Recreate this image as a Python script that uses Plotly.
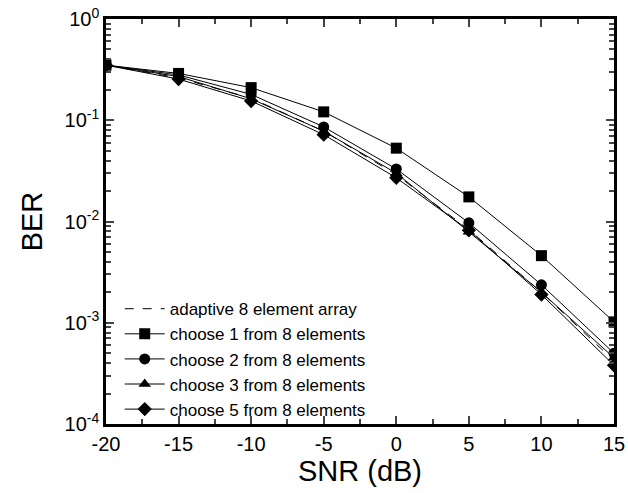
import plotly.graph_objects as go

snr = [-20, -15, -10, -5, 0, 5, 10, 15]
adaptive = [0.35, 0.262, 0.165, 0.078, 0.029, 0.0083, 0.0020, 0.00042]
choose1 = [0.35, 0.29, 0.21, 0.121, 0.053, 0.0175, 0.0046, 0.00102]
choose2 = [0.35, 0.28, 0.18, 0.086, 0.033, 0.0097, 0.00237, 0.00050]
choose3 = [0.35, 0.27, 0.163, 0.078, 0.030, 0.0079, 0.0020, 0.00045]
choose5 = [0.35, 0.255, 0.155, 0.072, 0.027, 0.0082, 0.0019, 0.00038]

names = ["adaptive 8 element array", "choose 1 from 8 elements", "choose 2 from 8 elements",
         "choose 3 from 8 elements", "choose 5 from 8 elements"]
xticks = [-20, -15, -10, -5, 0, 5, 10, 15]
xtext = ["-20", "-15", "-10", "-5", "0", "5", "10", "15"]
xminor = [-17.5, -12.5, -7.5, -2.5, 2.5, 7.5, 12.5]
yticks = [1e-4, 1e-3, 1e-2, 1e-1, 1]
ytext = ["10<sup>-4</sup>", "10<sup>-3</sup>", "10<sup>-2</sup>", "10<sup>-1</sup>", "10<sup>0</sup>"]
yminor = [m * d for d in [1e-4, 1e-3, 1e-2, 1e-1] for m in range(2, 10)]

fig = go.Figure()
fig.add_trace(go.Scatter(x=snr, y=adaptive, name=names[0], mode="lines",
                         line=dict(color="black", width=1, dash="dash")))
for vals, nm, sym in [(choose1, names[1], "square"), (choose2, names[2], "circle"),
                      (choose3, names[3], "triangle-up"), (choose5, names[4], "diamond")]:
    fig.add_trace(go.Scatter(x=snr, y=vals, name=nm, mode="lines+markers",
                             line=dict(color="black", width=1),
                             marker=dict(symbol=sym, size=11, color="black")))

fig.update_layout(
    width=628, height=493,
    paper_bgcolor="white", plot_bgcolor="white",
    margin=dict(l=106, r=14, t=19, b=69, autoexpand=False),
    font=dict(family="Liberation Sans, Arial, sans-serif", color="black"),
    showlegend=True,
    legend=dict(x=0.027, y=0.328, xanchor="left", yanchor="top",
                bgcolor="rgba(0,0,0,0)", font=dict(size=17), tracegroupgap=0,
                itemwidth=40),
)
fig.update_xaxes(range=[-20, 15], tickvals=xticks, ticktext=xtext, ticks="inside",
                 ticklen=8, tickwidth=2, automargin=False, ticklabeloverflow="allow",
                 showline=True, linewidth=2.5, linecolor="black", mirror="ticks",
                 showgrid=False, zeroline=False, tickfont=dict(size=20),
                 minor=dict(tickvals=xminor, ticks="inside", ticklen=5, tickwidth=2,
                            showgrid=False),
                 title=dict(text="SNR (dB)", font=dict(size=29), standoff=6))
fig.update_yaxes(type="log", range=[-4, 0], tickvals=yticks, ticktext=ytext,
                 ticks="inside", ticklen=8, tickwidth=2, automargin=False,
                 ticklabeloverflow="allow",
                 showline=True, linewidth=2.5, linecolor="black", mirror="ticks",
                 showgrid=False, zeroline=False, tickfont=dict(size=20),
                 minor=dict(tickvals=yminor, ticks="inside", ticklen=5, tickwidth=2,
                            showgrid=False),
                 title=dict(text="BER", font=dict(size=29), standoff=14))

fig.write_html("out.html", config={"displayModeBar": False},
               post_script="document.body.style.margin='0';")
